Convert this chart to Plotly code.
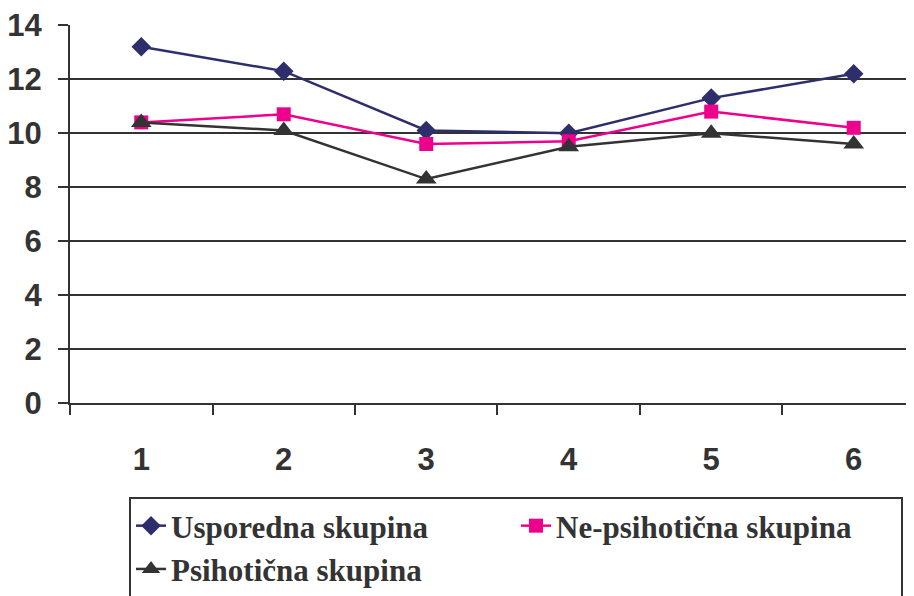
import plotly.graph_objects as go

categories = [1, 2, 3, 4, 5, 6]
usporedna = [13.2, 12.3, 10.1, 10.0, 11.3, 12.2]
ne_psihoticna = [10.4, 10.7, 9.6, 9.7, 10.8, 10.2]
psihoticna = [10.4, 10.1, 8.3, 9.5, 10.0, 9.6]
y_ticks = [0, 2, 4, 6, 8, 10, 12, 14]

fig = go.Figure()
fig.add_trace(go.Scatter(x=categories, y=usporedna, name="Usporedna skupina",
                         mode="lines+markers",
                         line=dict(color="#2E2E6C", width=2.5),
                         marker=dict(symbol="diamond", size=15, color="#2E2E6C")))
fig.add_trace(go.Scatter(x=categories, y=ne_psihoticna, name="Ne-psihotična skupina",
                         mode="lines+markers",
                         line=dict(color="#EC008C", width=2.5),
                         marker=dict(symbol="square", size=14, color="#EC008C")))
fig.add_trace(go.Scatter(x=categories, y=psihoticna, name="Psihotična skupina",
                         mode="lines+markers",
                         line=dict(color="#333333", width=2.5),
                         marker=dict(symbol="triangle-up", size=18, color="#333333")))

# page has an 8px body margin; compensate
W, H = 906, 588
L, T = 62, 17
plot_bottom = 395
plot_h = plot_bottom - T
plot_w = W - L
fig.update_layout(
    width=W, height=H,
    margin=dict(l=L, r=0, t=T, b=H - plot_bottom, autoexpand=False),
    paper_bgcolor="white", plot_bgcolor="white",
    showlegend=True,
    legend=dict(orientation="h", x=(121 - L) / plot_w, xanchor="left",
                y=-(489 - plot_bottom) / plot_h, yanchor="top",
                bordercolor="#333333", borderwidth=2, bgcolor="white",
                entrywidth=340, entrywidthmode="pixels",
                font=dict(family="Liberation Serif", size=31, color="#333333"),
                itemsizing="trace"),
    font=dict(family="Liberation Sans", color="#333333"),
)
fig.update_xaxes(
    range=[0.5, 6.423], tickvals=categories, ticktext=[f"<b>{c}</b>" for c in categories],
    ticks="", showgrid=False, zeroline=False, automargin=False,
    showline=True, linecolor="#333333", linewidth=2,
    tickfont=dict(family="Liberation Sans", size=31, color="#333333"),
    ticklabelstandoff=28,
    minor=dict(tickvals=[0.5, 1.5, 2.5, 3.5, 4.5, 5.5], ticks="outside", ticklen=10,
               tickcolor="#333333", tickwidth=2, showgrid=False),
)
fig.update_yaxes(
    range=[0, 14.01], tickvals=y_ticks, ticktext=[f"<b>{t}</b>" for t in y_ticks],
    ticks="outside", ticklen=10, tickcolor="#333333", tickwidth=2,
    showgrid=True, gridcolor="#333333", gridwidth=2, zeroline=False, automargin=False,
    showline=True, linecolor="#333333", linewidth=2,
    tickfont=dict(family="Liberation Sans", size=31, color="#333333"),
    ticklabelstandoff=10, ticklabeloverflow="allow",
)
for tr in fig.data:
    tr.name = f"<b>{tr.name}</b>"
fig.write_html("out.html")
